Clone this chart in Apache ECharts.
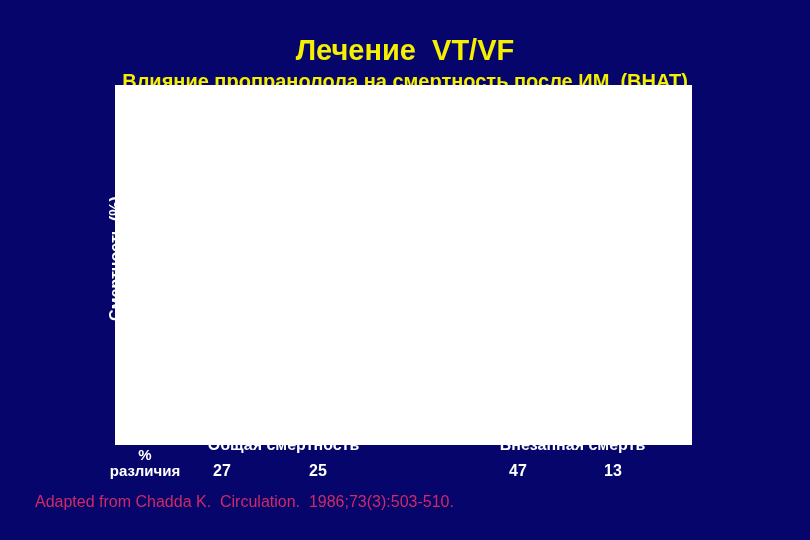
<!DOCTYPE html>
<html>
<head>
<meta charset="utf-8">
<script src="https://cdn.jsdelivr.net/npm/echarts@6/dist/echarts.min.js"></script>
<style>
  html, body { margin: 0; padding: 0; background: #05056b; }
  #chart { width: 810px; height: 540px; }
</style>
</head>
<body>
<div id="chart"></div>
<script>
// категории и подписи
const categories = ['Общая смертность', 'Внезапная смерть']
const diffValues = [27, 25, 47, 13]
const diffX = [222, 318, 518, 613] // положение подписей % различия

const font = 'Liberation Sans, Arial, sans-serif'

const chart = echarts.init(document.getElementById('chart'))

const diffTexts = diffValues.map(function (v, i) {
  return {
    type: 'text', z: 120, x: diffX[i], y: 472,
    style: { text: String(v), fill: '#ffffff', font: 'bold 16px ' + font, align: 'center', verticalAlign: 'middle' }
  }
})

chart.setOption({
  backgroundColor: '#05056b',
  title: [
    { text: 'Лечение  VT/VF', left: 'center', top: 32, textStyle: { color: '#f4f000', fontSize: 29, fontWeight: 'bold', fontFamily: font } },
    { text: 'Влияние пропранолола на смертность после ИМ  (BHAT)', left: 'center', top: 67, textStyle: { color: '#f4f000', fontSize: 20, fontWeight: 'bold', fontFamily: font } }
  ],
  grid: { left: 139, right: 93, top: 85, bottom: 108 },
  xAxis: {
    type: 'category',
    data: categories,
    axisLine: { show: false },
    axisTick: { show: false },
    axisLabel: { color: '#ffffff', fontSize: 16, fontWeight: 'bold', fontFamily: font, margin: 6 }
  },
  yAxis: {
    type: 'value',
    name: 'Смертность (%)',
    nameLocation: 'middle',
    nameRotate: 90,
    nameGap: 14,
    nameTextStyle: { color: '#ffffff', fontSize: 16, fontWeight: 'bold', fontFamily: font },
    axisLabel: { show: false },
    axisLine: { show: false },
    splitLine: { show: false }
  },
  series: [{ type: 'bar', data: [] }],
  graphic: [
    // белая область картинки поверх графика
    { type: 'rect', z: 100, shape: { x: 115, y: 85, width: 577, height: 360 }, style: { fill: '#ffffff' } },
    { type: 'text', z: 120, x: 145, y: 456, style: { text: '%', fill: '#ffffff', font: 'bold 15px ' + font, align: 'center', verticalAlign: 'middle' } },
    { type: 'text', z: 120, x: 145, y: 472, style: { text: 'различия', fill: '#ffffff', font: 'bold 15px ' + font, align: 'center', verticalAlign: 'middle' } },
    { type: 'text', z: 120, x: 35, y: 503, style: { text: 'Adapted from Chadda K.  Circulation.  1986;73(3):503-510.', fill: '#d02a66', font: '16px ' + font, verticalAlign: 'middle' } }
  ].concat(diffTexts)
})
</script>
</body>
</html>
